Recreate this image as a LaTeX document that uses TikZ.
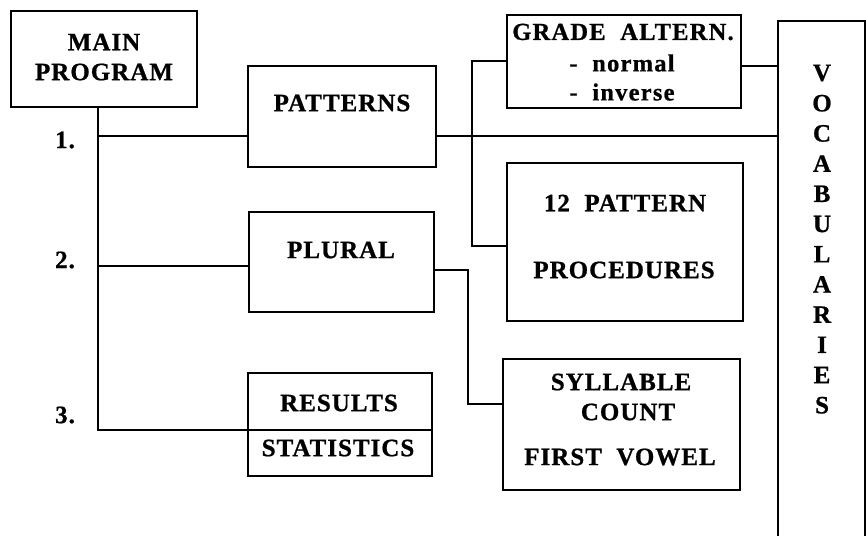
\documentclass[tikz,border=0pt]{standalone}
\usepackage{fontspec}
\setmainfont{Liberation Serif}
\newfontfamily\widefont{Liberation Serif}[LetterSpace=4,BoldFeatures={FakeBold=0.8}]
\newfontfamily\gradefont{Liberation Serif}[LetterSpace=5,BoldFeatures={FakeBold=0.8}]
\begin{document}
\begin{tikzpicture}[x=1pt,y=-1pt,
  box/.style={draw, line width=1.3pt, inner sep=0pt},
  wire/.style={line width=1.3pt},
  lbl/.style={font=\widefont\bfseries\fontsize{25}{28}\selectfont, inner sep=0pt},
  glbl/.style={font=\gradefont\bfseries\fontsize{24.5}{27}\selectfont, inner sep=0pt}]
\useasboundingbox (0,0) rectangle (866,535);
\clip (0,0) rectangle (866,535);
% boxes
\node[box, minimum width=186, minimum height=96]  (main)     at (104,59) {};
\node[box, minimum width=188, minimum height=101] (patterns) at (342,116.5) {};
\node[box, minimum width=234, minimum height=93]  (grade)    at (624,61.5) {};
\node[box, minimum width=236, minimum height=158] (proc)     at (625,242) {};
\node[box, minimum width=185, minimum height=100] (plural)   at (341.5,262) {};
\node[box, minimum width=184, minimum height=103] (results)  at (340,424.5) {};
\node[box, minimum width=237, minimum height=131] (syll)     at (621.5,424.5) {};
\node[box, minimum width=87,  minimum height=540] (vocab)    at (821.5,291) {};
% texts
\node[lbl] (tmain1) at (104,42) {MAIN};
\node[lbl] (tmain2) at (104,72) {PROGRAM};
\node[lbl] (tpat) at (342,103) {PATTERNS};
\node[glbl] (tgr1) at (623,32) {GRADE\ \ ALTERN.};
\node[glbl] (tgr2) at (622,63) {-\ \ normal};
\node[glbl] (tgr3) at (622,92) {-\ \ inverse};
\node[lbl] (tpr1) at (625,203) {12\ \ PATTERN};
\node[lbl] (tpr2) at (624,270) {PROCEDURES};
\node[lbl] (tpl) at (341,250) {PLURAL};
\node[lbl] (tres) at (339,403) {RESULTS};
\node[lbl] (tsta) at (338,448) {STATISTICS};
\node[lbl] (tsy1) at (621,382) {SYLLABLE};
\node[lbl] (tsy2) at (628,412) {COUNT};
\node[lbl] (tsy3) at (620,457) {FIRST\ \ VOWEL};
\node[lbl] (n1) at (65,140) {1.};
\node[lbl] (n2) at (65,260) {2.};
\node[lbl] (n3) at (65,415) {3.};
\foreach \c [count=\i] in {V,O,C,A,B,U,L,A,R,I,E,S}
  \node[lbl] (voc\i) at (822,{73+30.2*(\i-1)}) {\c};
% connectors
\coordinate (j1) at (98,136);
\coordinate (j2) at (98,266);
\coordinate (j3) at (98,430);
\draw[wire] (main.south -| j1) -- (j3) -- (results.west |- j3);
\draw[wire] (results.west |- j3) -- (results.east |- j3);
\draw[wire] (j1) -- (patterns.west |- j1);
\draw[wire] (j2) -- (plural.west |- j2);
\coordinate (k1) at (600,136);
\draw[wire] (patterns.east |- k1) -- (vocab.west |- k1);
\coordinate (k2) at (760,66);
\draw[wire] (grade.east |- k2) -- (vocab.west |- k2);
\coordinate (g1) at (472,61);
\coordinate (g2) at (472,246);
\draw[wire] (grade.west |- g1) -- (g1) -- (g2) -- (proc.west |- g2);
\coordinate (p1) at (468,270);
\coordinate (p2) at (468,404);
\draw[wire] (plural.east |- p1) -- (p1) -- (p2) -- (syll.west |- p2);
\end{tikzpicture}
\end{document}
